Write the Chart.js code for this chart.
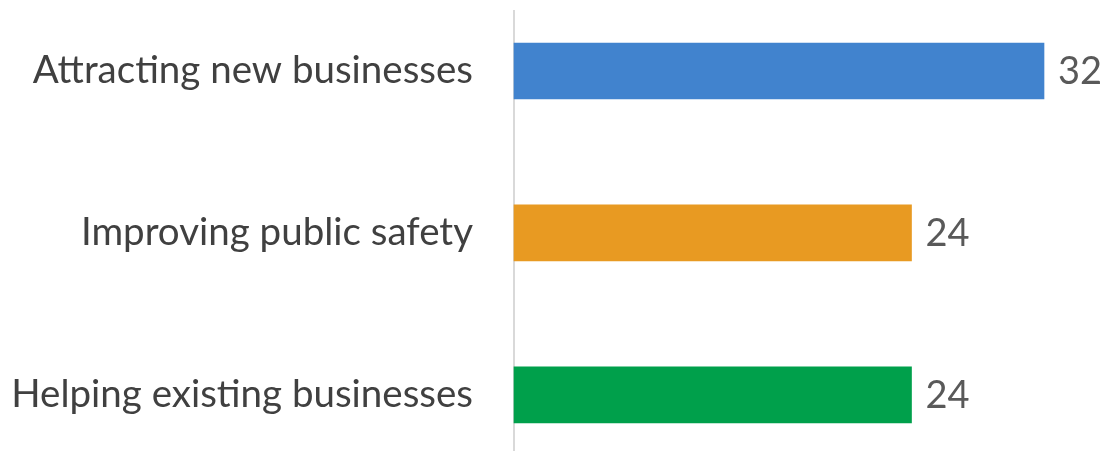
<!DOCTYPE html>
<html>
<head>
<meta charset="utf-8">
<script src="https://cdn.jsdelivr.net/npm/chart.js@4"></script>
<style>
  html, body { margin: 0; padding: 0; background: #fff; }
  #wrap { width: 1109px; height: 451px; position: relative; }
</style>
</head>
<body>
<div id="wrap"><canvas id="chart"></canvas></div>
<script>
// data
const categories = ['Attracting new businesses', 'Improving public safety', 'Helping existing businesses'];
const values = [32, 24, 24];
const barColors = ['rgb(65, 131, 206)', 'rgb(232, 154, 34)', 'rgb(0, 160, 75)'];

const FONT = 'Lato, "Open Sans", sans-serif';

// vertical axis line, runs past the plot area like in the original
const axisLine = {
  id: 'axisLine',
  beforeDatasetsDraw(chart) {
    const ctx = chart.ctx;
    const x = chart.chartArea.left;
    ctx.save();
    ctx.strokeStyle = '#d9d9d9';
    ctx.lineWidth = 2;
    ctx.beginPath();
    ctx.moveTo(x, 10);
    ctx.lineTo(x, chart.height);
    ctx.stroke();
    ctx.restore();
  }
};

// numbers at the end of each bar
const barValues = {
  id: 'barValues',
  afterDatasetsDraw(chart) {
    const ctx = chart.ctx;
    const meta = chart.getDatasetMeta(0);
    ctx.save();
    ctx.font = '38px ' + FONT;
    ctx.fillStyle = '#595959';
    ctx.textAlign = 'left';
    ctx.textBaseline = 'middle';
    meta.data.forEach((bar, i) => {
      ctx.fillText(values[i], bar.x + 14, bar.y + 1);
    });
    ctx.restore();
  }
};

const data = {
  labels: categories,
  datasets: [{
    data: values,
    backgroundColor: barColors,
    borderWidth: 0,
    barThickness: 56,
    clip: false
  }]
};

const config = {
  type: 'bar',
  data: data,
  options: {
    indexAxis: 'y',
    responsive: true,
    maintainAspectRatio: false,
    animation: false,
    layout: {
      padding: { top: 71, bottom: 47, right: 65, left: 0 }
    },
    plugins: {
      legend: { display: false },
      tooltip: { enabled: false }
    },
    scales: {
      x: {
        display: false,
        min: 0,
        max: 32
      },
      y: {
        offset: false,
        grid: { display: false },
        border: { display: false },
        ticks: {
          padding: 33,
          color: '#404040',
          font: { family: FONT, size: 38.5 }
        },
        afterFit(scale) { scale.width = 514; }
      }
    }
  },
  plugins: [axisLine, barValues]
};

const chart = new Chart(document.getElementById('chart'), config);
</script>
</body>
</html>
